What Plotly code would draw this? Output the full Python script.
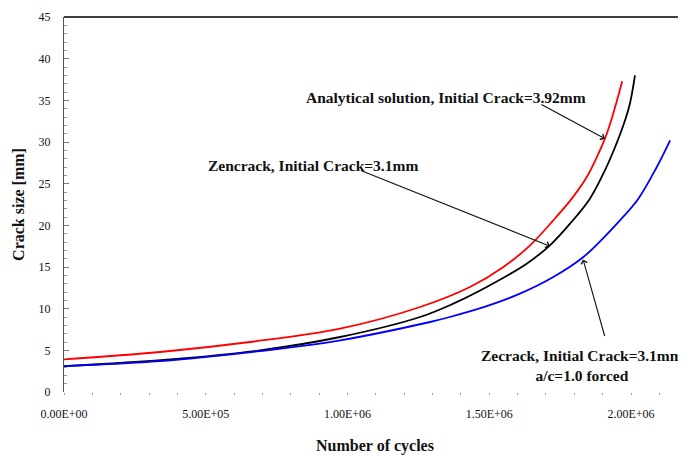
import plotly.graph_objects as go

# Data (cycles, crack size in mm)
analytical_cycles = [0, 0.339e6, 0.656e6, 0.974e6, 1.256e6, 1.432e6, 1.550e6, 1.644e6, 1.726e6,
                     1.791e6, 1.844e6, 1.885e6, 1.908e6, 1.932e6, 1.949e6, 1.969e6]
analytical_size = [3.92, 4.8, 6.0, 7.6, 10.2, 12.6, 15.0, 17.6, 20.6,
                   23.2, 25.8, 28.6, 30.4, 32.8, 34.8, 37.3]

zencrack_cycles = [0, 0.374e6, 0.691e6, 0.974e6, 1.256e6, 1.373e6, 1.491e6, 1.632e6, 1.714e6,
                   1.785e6, 1.855e6, 1.908e6, 1.944e6, 1.973e6, 1.996e6, 2.014e6]
zencrack_size = [3.1, 3.9, 5.0, 6.6, 9.0, 10.6, 12.6, 15.4, 17.6,
                 20.2, 23.2, 26.6, 29.4, 32.0, 34.6, 38.0]

forced_cycles = [0, 0.339e6, 0.691e6, 0.974e6, 1.291e6, 1.361e6, 1.491e6, 1.608e6, 1.726e6,
                 1.832e6, 1.961e6, 2.026e6, 2.091e6, 2.138e6]
forced_size = [3.1, 3.7, 4.9, 6.2, 8.4, 9.0, 10.3, 11.8, 13.8,
               16.2, 20.6, 23.2, 27.0, 30.2]

x_tickvals = [0, 5e5, 1e6, 1.5e6, 2e6]
x_ticktext = ["0.00E+00", "5.00E+05", "1.00E+06", "1.50E+06", "2.00E+06"]
y_tickvals = [0, 5, 10, 15, 20, 25, 30, 35, 40, 45]

serif = "Liberation Serif"
ink = "#111111"

fig = go.Figure()
fig.add_trace(go.Scatter(x=analytical_cycles, y=analytical_size, mode="lines",
                         line=dict(color="#ff0000", width=1.8, shape="spline", smoothing=1.0),
                         name="Analytical solution"))
fig.add_trace(go.Scatter(x=zencrack_cycles, y=zencrack_size, mode="lines",
                         line=dict(color="#000000", width=1.8, shape="spline", smoothing=1.0),
                         name="Zencrack"))
fig.add_trace(go.Scatter(x=forced_cycles, y=forced_size, mode="lines",
                         line=dict(color="#0000ff", width=1.8, shape="spline", smoothing=1.0),
                         name="Zencrack a/c=1.0 forced"))

# Text labels
txt_font = dict(family=serif, size=15.5, color=ink)
fig.add_annotation(x=1.347e6, y=35.4, text="<b>Analytical solution, Initial Crack=3.92mm</b>",
                   showarrow=False, font=txt_font, xanchor="center", yanchor="middle")
fig.add_annotation(x=0.880e6, y=27.2, text="<b>Zencrack, Initial Crack=3.1mm</b>",
                   showarrow=False, font=txt_font, xanchor="center", yanchor="middle")
fig.add_annotation(x=1.827e6, y=3.2, text="<b>Zecrack, Initial Crack=3.1mm<br>a/c=1.0 forced</b>",
                   showarrow=False, font=txt_font, xanchor="center", yanchor="middle", align="center")

# Arrows (tip on the curves, tail offset in pixels)
arrow_style = dict(showarrow=True, arrowhead=4, arrowsize=1.1, arrowwidth=1.1,
                   arrowcolor=ink, text="", standoff=0)
fig.add_annotation(x=1.908e6, y=30.4, ax=-65, ay=-35, **arrow_style)
fig.add_annotation(x=1.714e6, y=17.5, ax=-190, ay=-76, **arrow_style)
fig.add_annotation(x=1.831e6, y=15.9, ax=22, ay=78, **arrow_style)

# Top frame line
fig.add_shape(type="line", xref="paper", yref="paper", x0=0, x1=1, y0=1, y1=1,
              line=dict(color="#000000", width=1.6))

# The page body adds an 8px offset, so the figure is sized to fill the rest of the window
fig.update_layout(
    width=678, height=449,
    margin=dict(l=56, r=0, t=9, b=65),
    paper_bgcolor="white", plot_bgcolor="white",
    showlegend=False,
    font=dict(family=serif, size=12, color=ink),
    xaxis=dict(
        range=[0, 2.194e6], tickvals=x_tickvals, ticktext=x_ticktext,
        showgrid=False, zeroline=False, showline=False, automargin=False,
        ticks="", ticklabelstandoff=13,
        tickfont=dict(family=serif, size=12, color=ink),
        minor=dict(dtick=1e5, ticks="outside", ticklen=2, tickcolor="#9a9a9a", tickwidth=1),
        title=dict(text="<b>Number of cycles</b>", font=dict(family=serif, size=16, color=ink),
                   standoff=19),
    ),
    yaxis=dict(
        range=[0, 45], tickvals=y_tickvals,
        showgrid=False, zeroline=False, showline=True, linecolor="#555555", linewidth=1,
        automargin=False,
        ticks="inside", ticklen=5, tickcolor="#777777",
        minor=dict(dtick=1, ticks="inside", ticklen=3, tickcolor="#9a9a9a", tickwidth=1),
        tickfont=dict(family=serif, size=12, color=ink),
        ticklabelstandoff=10,
        title=dict(text="<b>Crack size [mm]</b>", font=dict(family=serif, size=16, color=ink),
                   standoff=9),
    ),
)

fig.write_html("out.html")
